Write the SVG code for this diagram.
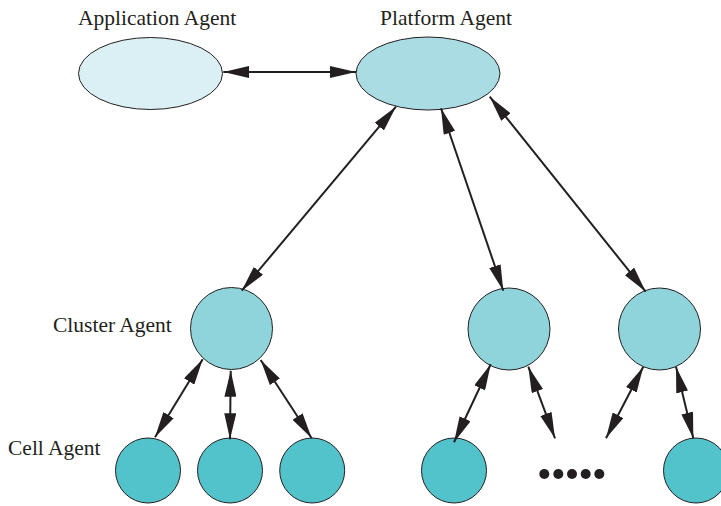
<svg xmlns="http://www.w3.org/2000/svg" width="721" height="506" viewBox="0 0 721 506">
  <style>
    .lbl { font-family: "Liberation Serif", "Times New Roman", serif; font-size: 21.5px; fill: #231f20; }
    .node { stroke: #231f20; stroke-width: 1; }
    .app { fill: #dbf0f4; }
    .plat { fill: #aadde3; }
    .clus { fill: #8ed4da; }
    .cell { fill: #52c3ca; }
    .link { stroke: #231f20; stroke-width: 2; fill: none; marker-start: url(#head); marker-end: url(#head); }
    .dot { fill: #231f20; }
  </style>
  <defs>
    <marker id="head" viewBox="0 0 26 12" refX="26" refY="6" markerWidth="26" markerHeight="12" markerUnits="userSpaceOnUse" orient="auto-start-reverse">
      <path d="M0,0 L26,6 L0,12 Z" fill="#231f20"/>
    </marker>
  </defs>
  <rect width="721" height="506" fill="#ffffff"/>

  <!-- labels -->
  <text class="lbl" x="78" y="25">Application Agent</text>
  <text class="lbl" x="380" y="25">Platform Agent</text>
  <text class="lbl" x="53" y="332">Cluster Agent</text>
  <text class="lbl" x="8" y="455">Cell Agent</text>

  <!-- nodes -->
  <g id="application-agent"><ellipse class="node app" cx="150.5" cy="73.5" rx="72" ry="36"/></g>
  <g id="platform-agent"><ellipse class="node plat" cx="428" cy="73.5" rx="72" ry="36.5"/></g>

  <g id="cluster-1"><circle class="node clus" cx="231.5" cy="328.5" r="41"/></g>
  <g id="cluster-2"><circle class="node clus" cx="509" cy="329" r="41"/></g>
  <g id="cluster-3"><circle class="node clus" cx="659.5" cy="329" r="41"/></g>

  <g id="cell-1"><circle class="node cell" cx="148" cy="470.5" r="32.5"/></g>
  <g id="cell-2"><circle class="node cell" cx="230" cy="470.5" r="32.5"/></g>
  <g id="cell-3"><circle class="node cell" cx="312.2" cy="470.5" r="32.5"/></g>
  <g id="cell-4"><circle class="node cell" cx="454" cy="470.5" r="32.5"/></g>
  <g id="cell-5"><circle class="node cell" cx="696" cy="470.5" r="32.5"/></g>

  <!-- ellipsis between cells -->
  <g id="more-cells">
    <circle class="dot" cx="544.3" cy="474" r="5"/>
    <circle class="dot" cx="558.3" cy="474" r="5"/>
    <circle class="dot" cx="572" cy="474" r="5"/>
    <circle class="dot" cx="585.7" cy="474" r="5"/>
    <circle class="dot" cx="599.3" cy="474" r="5"/>
  </g>

  <!-- connectors -->
  <g id="connectors">
    <line class="link" x1="223.3" y1="72" x2="356" y2="72"/>
    <line class="link" x1="396" y1="106.7" x2="241.7" y2="290.7"/>
    <line class="link" x1="441" y1="108.3" x2="503.3" y2="290.7"/>
    <line class="link" x1="489.7" y1="96.7" x2="645.7" y2="291.7"/>

    <line class="link" x1="202.7" y1="359.3" x2="155" y2="437.3"/>
    <line class="link" x1="230.7" y1="370.7" x2="230" y2="439.3"/>
    <line class="link" x1="260.7" y1="360" x2="311.7" y2="438.3"/>

    <line class="link" x1="490.7" y1="364.3" x2="454" y2="442.3"/>
    <line class="link" x1="528.3" y1="366.7" x2="555" y2="438.3"/>
    <line class="link" x1="643.3" y1="366.7" x2="606" y2="438.3"/>
    <line class="link" x1="676" y1="366.7" x2="693.3" y2="438.3"/>
  </g>
</svg>
